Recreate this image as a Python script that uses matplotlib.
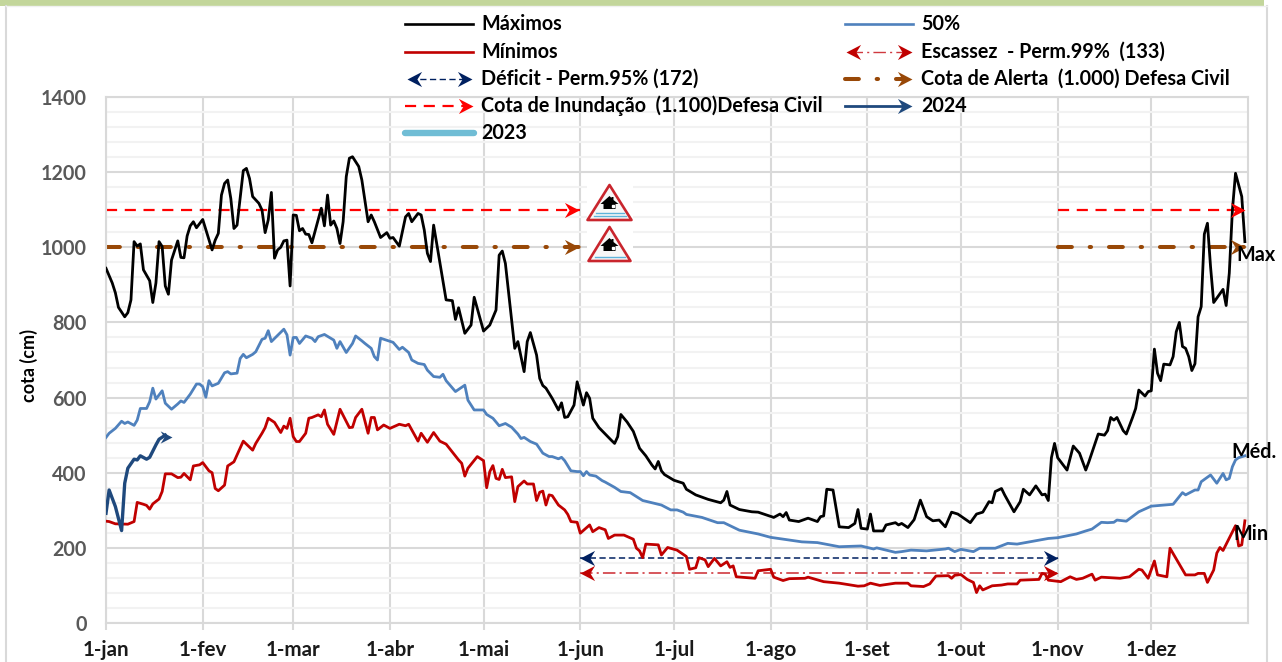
import matplotlib
matplotlib.use("Agg")
import matplotlib.pyplot as plt
from matplotlib.path import Path
from matplotlib.patches import Polygon, Rectangle

plt.rcParams["font.family"] = ["Lato", "DejaVu Sans"]
plt.rcParams["lines.scale_dashes"] = False

month_days = [0, 31, 60, 91, 121, 152, 182, 213, 244, 274, 305, 335]
month_labels = ["1-jan", "1-fev", "1-mar", "1-abr", "1-mai", "1-jun", "1-jul",
                "1-ago", "1-set", "1-out", "1-nov", "1-dez"]

max_days = [0, 2, 3, 4, 6, 7, 8, 9, 10, 11, 12, 14, 15, 16, 17, 18, 19, 20, 21, 23, 24, 25, 26, 27, 28, 29,
            31, 34, 35, 36, 37, 38, 39, 40, 41, 42, 44, 45, 46, 47, 49, 50, 51, 52, 53, 54, 55, 56, 57, 58,
            59, 60, 61, 62, 63, 64, 65, 66, 69, 70, 71, 72, 73, 74, 75, 76, 77, 78, 79, 81, 82, 84, 85, 86,
            88, 90, 91, 92, 94, 96, 97, 98, 100, 101, 102, 103, 104, 105, 109, 111, 112, 113, 115, 117, 118,
            121, 123, 125, 126, 127, 128, 131, 132, 134, 135, 136, 138, 139, 140, 141, 143, 145, 146, 147,
            148, 150, 151, 153, 154, 155, 156, 158, 162, 163, 164, 165, 167, 169, 171, 173, 175, 176, 177,
            178, 179, 182, 185, 186, 189, 193, 197, 198, 199, 200, 203, 207, 209, 214, 216, 217, 218, 219,
            222, 225, 228, 229, 230, 231, 233, 235, 238, 240, 241, 242, 244, 245, 246, 249, 250, 253, 254,
            255, 257, 259, 261, 263, 265, 267, 269, 271, 273, 277, 279, 281, 283, 284, 285, 287, 288, 291,
            293, 294, 296, 298, 300, 301, 302, 303, 304, 305, 308, 310, 312, 314, 315, 318, 320, 321, 322,
            323, 324, 326, 327, 329, 330, 331, 333, 334, 335, 336, 337, 338, 339, 341, 342, 343, 344, 345,
            346, 347, 348, 349, 350, 351, 352, 353, 354, 355, 358, 359, 360, 361, 362, 364, 365]
max_vals = [944, 905, 879, 840, 815, 826, 860, 1015, 1003, 1009, 940, 911, 853, 905, 1015, 1002, 897, 875, 966,
            1017, 973, 972, 1030, 1057, 1068, 1052, 1074, 993, 1019, 1037, 1139, 1170, 1179, 1130, 1050, 1059,
            1204, 1210, 1183, 1135, 1117, 1099, 1039, 1073, 1146, 971, 993, 1000, 1017, 1019, 897, 1086, 1085,
            1044, 1050, 1035, 1034, 1012, 1104, 1057, 1139, 1059, 1070, 1050, 1010, 1068, 1188, 1237, 1241,
            1215, 1179, 1068, 1086, 1068, 1026, 1039, 1024, 1026, 1003, 1081, 1090, 1068, 1090, 1086, 1046,
            984, 962, 1059, 860, 858, 808, 839, 771, 793, 867, 777, 793, 833, 979, 990, 957, 731, 749, 669,
            749, 773, 713, 651, 632, 625, 598, 567, 586, 547, 549, 580, 642, 580, 613, 598, 545, 520, 486,
            478, 496, 555, 535, 510, 465, 445, 420, 410, 430, 405, 395, 380, 372, 356, 341, 329, 320, 327,
            350, 314, 302, 296, 295, 281, 290, 283, 294, 274, 270, 279, 270, 283, 285, 356, 354, 256, 254,
            265, 302, 252, 250, 290, 245, 245, 261, 267, 261, 265, 254, 275, 327, 283, 272, 274, 256, 295,
            290, 267, 290, 295, 323, 320, 350, 358, 341, 296, 323, 356, 341, 365, 341, 343, 326, 440, 478,
            440, 407, 471, 452, 407, 429, 503, 500, 512, 547, 540, 547, 512, 503, 547, 571, 620, 604, 616,
            618, 729, 665, 645, 689, 687, 709, 775, 800, 736, 731, 709, 672, 690, 815, 842, 1035, 1064, 948,
            853, 888, 845, 931, 1099, 1197, 1135, 1015]

med_days = [0, 1, 3, 5, 6, 7, 9, 10, 11, 13, 14, 15, 16, 18, 19, 21, 23, 24, 25, 27, 29, 30, 31, 32, 33, 34, 36,
            38, 39, 40, 42, 43, 44, 45, 47, 48, 50, 51, 52, 53, 57, 58, 59, 60, 61, 62, 64, 66, 67, 68, 70, 73,
            74, 75, 77, 79, 80, 82, 83, 85, 86, 87, 88, 92, 94, 95, 97, 98, 100, 102, 103, 105, 107, 108, 109,
            112, 115, 116, 118, 121, 122, 124, 126, 128, 130, 132, 133, 134, 136, 138, 140, 142, 143, 145, 146,
            147, 149, 151, 152, 153, 154, 155, 157, 159, 160, 163, 165, 168, 172, 178, 181, 183, 185, 186, 191,
            196, 198, 203, 209, 213, 223, 228, 235, 242, 246, 247, 253, 255, 258, 263, 269, 270, 272, 274, 278,
            280, 285, 289, 292, 298, 302, 305, 311, 314, 316, 319, 321, 323, 324, 327, 331, 335, 342, 345, 346,
            349, 350, 351, 354, 356, 358, 359, 360, 361, 362, 363, 365]
med_vals = [494, 505, 518, 537, 531, 535, 526, 540, 571, 571, 589, 625, 596, 618, 585, 569, 583, 591, 587, 609,
            636, 636, 629, 601, 645, 631, 638, 666, 669, 663, 665, 704, 715, 706, 715, 722, 755, 758, 778, 749,
            782, 767, 713, 760, 760, 744, 764, 758, 749, 762, 768, 753, 731, 749, 720, 744, 764, 751, 744, 731,
            709, 700, 758, 747, 728, 734, 720, 700, 691, 688, 673, 656, 654, 662, 645, 616, 633, 593, 567, 567,
            555, 545, 525, 531, 521, 503, 491, 494, 483, 476, 452, 443, 443, 437, 441, 432, 405, 403, 403, 392,
            403, 394, 391, 379, 375, 361, 350, 347, 326, 314, 301, 301, 295, 289, 281, 267, 267, 247, 237, 228,
            216, 214, 203, 205, 197, 200, 188, 190, 194, 192, 197, 199, 190, 196, 190, 199, 199, 212, 210, 219,
            225, 227, 237, 245, 250, 268, 267, 268, 274, 271, 296, 311, 316, 347, 341, 354, 354, 376, 394, 372,
            398, 381, 385, 416, 434, 440, 445]

min_days = [0, 1, 3, 7, 9, 10, 12, 13, 14, 15, 17, 18, 19, 21, 23, 24, 25, 27, 28, 30, 31, 33, 34, 35, 36, 38, 39,
            41, 44, 47, 48, 50, 51, 52, 54, 56, 57, 58, 59, 60, 61, 62, 64, 65, 66, 68, 69, 70, 71, 73, 75, 78,
            79, 80, 82, 84, 85, 86, 87, 89, 91, 94, 96, 97, 100, 101, 103, 105, 107, 109, 113, 114, 115, 116,
            119, 121, 122, 123, 124, 125, 126, 127, 128, 130, 131, 132, 134, 135, 137, 138, 139, 140, 141, 142,
            143, 145, 147, 148, 149, 151, 152, 155, 156, 158, 160, 161, 163, 166, 169, 170, 171, 172, 173, 177,
            178, 180, 183, 186, 187, 189, 190, 192, 193, 195, 197, 199, 200, 201, 202, 205, 208, 209, 213, 214,
            217, 219, 224, 225, 230, 235, 241, 243, 245, 248, 253, 257, 258, 262, 264, 266, 270, 271, 272, 274,
            276, 278, 279, 280, 281, 284, 287, 289, 292, 293, 299, 300, 301, 302, 306, 309, 311, 313, 316, 317,
            319, 325, 328, 331, 332, 334, 336, 337, 340, 341, 346, 349, 350, 352, 353, 355, 356, 357, 358, 362,
            363, 364, 365]
min_vals = [271, 270, 264, 263, 270, 321, 316, 313, 303, 317, 330, 350, 397, 397, 387, 388, 398, 381, 418, 421,
            427, 405, 400, 358, 352, 367, 418, 429, 484, 460, 478, 505, 520, 545, 534, 507, 524, 518, 545, 496,
            483, 483, 505, 545, 547, 554, 549, 567, 529, 502, 569, 520, 521, 547, 569, 505, 547, 547, 514, 527,
            518, 529, 525, 529, 484, 505, 481, 507, 484, 476, 434, 425, 391, 412, 443, 432, 360, 403, 419, 385,
            382, 409, 387, 389, 323, 363, 378, 370, 370, 326, 348, 351, 314, 341, 339, 314, 301, 289, 270, 268,
            239, 261, 243, 254, 248, 225, 234, 234, 223, 199, 192, 174, 210, 208, 181, 201, 194, 177, 143, 147,
            174, 168, 150, 172, 152, 163, 148, 152, 123, 121, 119, 139, 143, 122, 113, 118, 119, 122, 110, 106,
            98, 99, 106, 100, 106, 106, 99, 97, 104, 125, 126, 119, 127, 129, 116, 108, 81, 99, 88, 99, 101, 104,
            104, 114, 116, 132, 130, 114, 110, 123, 116, 119, 130, 114, 122, 119, 123, 143, 141, 119, 165, 128,
            123, 199, 128, 128, 132, 132, 108, 141, 186, 201, 193, 259, 205, 208, 272]

y2024_days = [0, 1, 3, 5, 6, 7, 9, 10, 11, 13, 14, 16, 17, 19]
y2024_vals = [292, 354, 310, 246, 372, 412, 436, 434, 445, 436, 441, 474, 489, 500]

deficit_level = 172
scarcity_level = 133
alert_level = 1000
flood_level = 1100
threshold_start = 152
threshold_restart = 305
year_end = 365

GRID = "#D9D9D9"
MINOR_GRID = "#F2F2F2"
BLUE = "#4F81BD"
RED = "#C00000"
NAVY = "#002060"
BROWN = "#984807"
DARK_BLUE = "#1F497D"
ALERT_DASH = (0, (10, 12.8, 1, 12.9))
FLOOD_DASH = (0, (8, 5.5))
DEFICIT_DASH = (0, (4.5, 2.5))
SCARCITY_DASH = (0, (9, 3, 1.5, 3))
FONT_SIZE = 14.2

# tip of the arrow at (0, 0), so the marker point is the end of the line
HEAD_RIGHT = Path([(0, 0), (-1, 0.52), (-0.68, 0), (-1, -0.52), (0, 0)], closed=True)
HEAD_LEFT = Path([(0, 0), (1, 0.52), (0.68, 0), (1, -0.52), (0, 0)], closed=True)


def head(ax, x, y, color, left=False, size=21):
    ax.plot([x], [y], marker=HEAD_LEFT if left else HEAD_RIGHT, color=color, markersize=size,
            markeredgewidth=0, linestyle="none", clip_on=False, zorder=6)


def flood_icon(ov, cx, top, base, half, waves):
    ov.add_patch(Rectangle((cx - 23, top - 3), 46, base - top + 5, facecolor="white", edgecolor="none", zorder=3))
    ov.add_patch(Polygon([(cx, top), (cx + half, base), (cx - half, base)], closed=True, facecolor="#F7F7F7",
                         edgecolor="#C9252D", linewidth=1.9, joinstyle="round", zorder=4))
    eave = top + 19
    ov.add_patch(Polygon([(cx - 9, eave), (cx, eave - 8), (cx + 2, eave - 6), (cx + 2, eave - 7), (cx + 4, eave - 7),
                          (cx + 4, eave - 4), (cx + 9, eave), (cx + 6, eave), (cx + 6, eave + 5), (cx - 6, eave + 5),
                          (cx - 6, eave)], closed=True, facecolor="black", edgecolor="none", zorder=5))
    ov.plot([cx + 3.5], [eave + 1.5], marker="s", color="white", markersize=1.8, zorder=6)
    for k in range(waves):
        yy = base - 4 - 3.5 * k
        ov.plot([cx - half + 6 + 2 * k, cx + half - 6 - 2 * k], [yy, yy], color="#5FB3DA", lw=1, zorder=5)


fig = plt.figure(figsize=(12.82, 6.62), dpi=100)
ax = fig.add_axes([106 / 1282, 1 - 623 / 662, (1248 - 106) / 1282, (623 - 97) / 662])

ax.set_xlim(0, 366)
ax.set_ylim(0, 1400)
ax.set_xticks(month_days)
ax.set_xticklabels(month_labels, fontsize=14.8, fontweight="bold", color="#1A1A1A")
ax.set_yticks(range(0, 1401, 200))
ax.set_yticks(range(0, 1401, 40), minor=True)
ax.tick_params(axis="x", which="major", length=5, width=1.5, color=GRID, pad=7)
ax.tick_params(axis="y", which="major", length=0, pad=14, labelcolor="#595959", labelsize=14.2)
ax.tick_params(axis="y", which="minor", length=0)
for lab in ax.get_yticklabels():
    lab.set_fontweight("bold")
ax.set_axisbelow(True)
ax.grid(axis="y", which="minor", color=MINOR_GRID, lw=1.5)
ax.grid(axis="y", which="major", color=GRID, lw=1.5)
ax.grid(axis="x", which="major", color=GRID, lw=1.5)
for spine in ax.spines.values():
    spine.set_color(GRID)
    spine.set_linewidth(1.5)
ax.set_ylabel("cota (cm)", fontsize=13, fontweight="bold", color="black")
ax.yaxis.set_label_coords(-0.0595, 0.49)

ax.plot([0, threshold_start], [alert_level, alert_level], color=BROWN, lw=2.9, ls=ALERT_DASH, dash_capstyle="round")
ax.plot([threshold_restart, year_end], [alert_level, alert_level], color=BROWN, lw=2.9, ls=ALERT_DASH,
        dash_capstyle="round")
head(ax, threshold_start - 0.5, alert_level, BROWN)
head(ax, year_end, alert_level, BROWN)

ax.plot([0, threshold_start], [flood_level, flood_level], color="#FF0000", lw=1.6, ls=FLOOD_DASH)
ax.plot([threshold_restart, year_end], [flood_level, flood_level], color="#FF0000", lw=1.6, ls=FLOOD_DASH)
head(ax, threshold_start - 0.5, flood_level, "#FF0000")
head(ax, year_end, flood_level, "#FF0000")

ax.plot([threshold_start, threshold_restart], [deficit_level, deficit_level], color=NAVY, lw=1.1, ls=DEFICIT_DASH)
head(ax, threshold_start, deficit_level, NAVY, left=True)
head(ax, threshold_restart, deficit_level, NAVY)
ax.plot([threshold_start, threshold_restart], [scarcity_level, scarcity_level], color="#D0393F", lw=1.2,
        ls=SCARCITY_DASH)
head(ax, threshold_start, scarcity_level, RED, left=True)
head(ax, threshold_restart, scarcity_level, RED)

ax.plot(med_days, med_vals, color=BLUE, lw=2, zorder=4, solid_joinstyle="round")
ax.plot(min_days, min_vals, color=RED, lw=2, zorder=4, solid_joinstyle="round")
ax.plot(max_days, max_vals, color="black", lw=2, zorder=5, solid_joinstyle="round")
ax.plot(y2024_days, y2024_vals, color=DARK_BLUE, lw=2.4, zorder=5, solid_joinstyle="round")
head(ax, y2024_days[-1] + 2, y2024_vals[-1] - 4, DARK_BLUE, size=17)

# overlay in picture pixels for the frame, the icons and the hand placed legend
ov = fig.add_axes([0, 0, 1, 1], facecolor="none")
ov.set_xlim(0, 1282)
ov.set_ylim(662, 0)
ov.axis("off")

ov.add_patch(Rectangle((0, 0), 1264, 6, facecolor="#C3D69B", edgecolor="none"))
ov.plot([6, 6], [6, 662], color=GRID, lw=1.5)
ov.plot([1267, 1267], [6, 662], color=GRID, lw=1.5)
ov.plot([6, 1267], [6, 6], color="#F0F0F0", lw=1)

flood_icon(ov, 609.5, 185, 220, 22, 2)
flood_icon(ov, 609.5, 227, 261, 21, 1)

LEG = dict(fontsize=FONT_SIZE, fontweight="bold", color="black", va="center", ha="left")
rows = [24, 52, 79, 106, 133]
ov.plot([405, 473], [rows[0], rows[0]], color="black", lw=1.9)
ov.text(481, rows[0], "Máximos", **LEG)
ov.plot([405, 473], [rows[1], rows[1]], color=RED, lw=1.9)
ov.text(481, rows[1], "Mínimos", **LEG)
ov.plot([410, 468], [rows[2], rows[2]], color=NAVY, lw=1, ls=DEFICIT_DASH)
head(ov, 406.5, rows[2], NAVY, left=True)
head(ov, 472, rows[2], NAVY)
ov.text(481, rows[2], "Déficit - Perm.95% (172)", **LEG)
ov.plot([405, 468], [rows[3], rows[3]], color="#FF0000", lw=1.6, ls=FLOOD_DASH)
head(ov, 473, rows[3], "#FF0000")
ov.text(481, rows[3], "Cota de Inundação  (1.100)Defesa Civil", **LEG)
ov.plot([405, 474], [rows[4], rows[4]], color="#70BDD5", lw=4.6, solid_capstyle="round")
ov.text(481, rows[4], "2023", **LEG)

ov.plot([845, 913], [rows[0], rows[0]], color=BLUE, lw=1.9)
ov.text(921, rows[0], "50%", **LEG)
ov.plot([850, 908], [rows[1], rows[1]], color="#D0393F", lw=1, ls=SCARCITY_DASH)
head(ov, 846, rows[1], RED, left=True)
head(ov, 912, rows[1], RED)
ov.text(921, rows[1], "Escassez  - Perm.99%  (133)", **LEG)
ov.plot([845, 905], [rows[2], rows[2]], color=BROWN, lw=2.9, ls=ALERT_DASH, dash_capstyle="round")
head(ov, 912, rows[2], BROWN)
ov.text(921, rows[2], "Cota de Alerta  (1.000) Defesa Civil", **LEG)
ov.plot([845, 905], [rows[3], rows[3]], color=DARK_BLUE, lw=2)
head(ov, 912, rows[3], DARK_BLUE)
ov.text(921, rows[3], "2024", **LEG)

ov.text(1236, 255, "Max", **LEG)
ov.text(1231, 452, "Méd.", **LEG)
ov.text(1233, 534, "Min", **LEG)

fig.savefig("out.png", dpi=100)
